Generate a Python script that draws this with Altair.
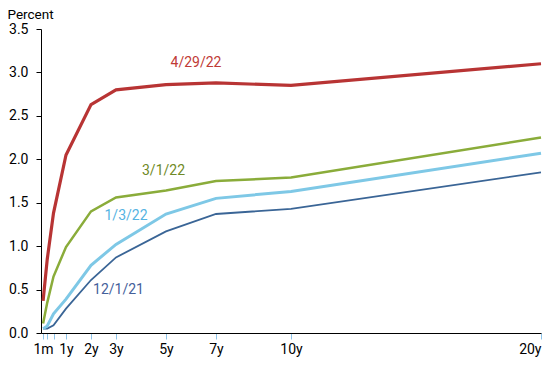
import altair as alt
import pandas as pd

maturities = [1/12, 0.25, 0.5, 1, 2, 3, 5, 7, 10, 20]
tick_labels = ["1m", "", "", "1y", "2y", "3y", "5y", "7y", "10y", "20y"]

series_names = ["12/1/21", "1/3/22", "3/1/22", "4/29/22"]
y_1201 = [0.05, 0.05, 0.09, 0.28, 0.61, 0.87, 1.17, 1.37, 1.43, 1.85]
y_0103 = [0.05, 0.08, 0.22, 0.39, 0.78, 1.02, 1.37, 1.55, 1.63, 2.07]
y_0301 = [0.11, 0.35, 0.65, 0.99, 1.40, 1.56, 1.64, 1.75, 1.79, 2.25]
y_0429 = [0.37, 0.85, 1.38, 2.05, 2.63, 2.80, 2.86, 2.88, 2.85, 3.10]

line_colors = ["#3a6596", "#7ec8e6", "#8aac3a", "#b83434"]
text_colors = ["#44609a", "#55b3e2", "#6f8a26", "#bf3a36"]
widths = [1.8, 3, 2.5, 3.2]

label_x = [3.1, 3.4, 4.9, 6.2]
label_y = [0.49, 1.35, 1.87, 3.11]

rows = []
for name, vals in zip(series_names, [y_1201, y_0103, y_0301, y_0429]):
    for m, v in zip(maturities, vals):
        rows.append({"series": name, "m": m, "v": v})
df = pd.DataFrame(rows)

lab_df = pd.DataFrame({"series": series_names, "x": label_x, "y": label_y})

label_expr = "{" + ",".join(f"'{round(m,4)}':'{l}'" for m, l in zip(maturities, tick_labels)) + "}"

xscale = alt.Scale(domain=[0, 20], nice=False)
yscale = alt.Scale(domain=[0, 3.5], nice=False)

layers = []
for i, name in enumerate(series_names):
    d = df[df.series == name]
    enc_x = alt.X("m:Q", scale=xscale,
                  axis=alt.Axis(values=maturities, grid=False, title=None,
                                labelExpr=f"({label_expr})[format(datum.value,'.4~f')] || ''",
                                domainColor="black", tickColor="#8cc4ea", tickSize=6,
                                labelFontSize=14, labelColor="black", labelPadding=3,
                                labelFont="Roboto", labelFlush=False,
                                labelAlign={"condition": {"test": "datum.value >= 20", "value": "right"}, "value": "center"}))
    enc_y = alt.Y("v:Q", scale=yscale,
                  axis=alt.Axis(values=[0, 0.5, 1, 1.5, 2, 2.5, 3, 3.5], format=".1f",
                                grid=False, title="Percent", titleAngle=0,
                                titleAlign="left", titleBaseline="alphabetic",
                                titleX=-34, titleY=-11, titleFontSize=13.5,
                                titleFontWeight="normal", titleFont="Roboto",
                                labelFont="Roboto", labelFontSize=14, labelColor="black",
                                domainColor="black", tickColor="black", tickSize=5,
                                labelPadding=8))
    layers.append(
        alt.Chart(d).mark_line(color=line_colors[i], strokeWidth=widths[i]).encode(x=enc_x, y=enc_y)
    )
    layers.append(
        alt.Chart(lab_df[lab_df.series == name]).mark_text(
            color=text_colors[i], fontSize=14, font="Roboto", align="center"
        ).encode(x=alt.X("x:Q", scale=xscale), y=alt.Y("y:Q", scale=yscale), text="series:N")
    )

chart = alt.layer(*layers).properties(
    width=500, height=304,
    autosize=alt.AutoSizeParams(type="none"),
    padding={"left": 33, "top": 21, "right": 1, "bottom": 30},
).configure_view(stroke=None)

chart.save("out.html", embed_options={"renderer": "svg", "actions": False})
